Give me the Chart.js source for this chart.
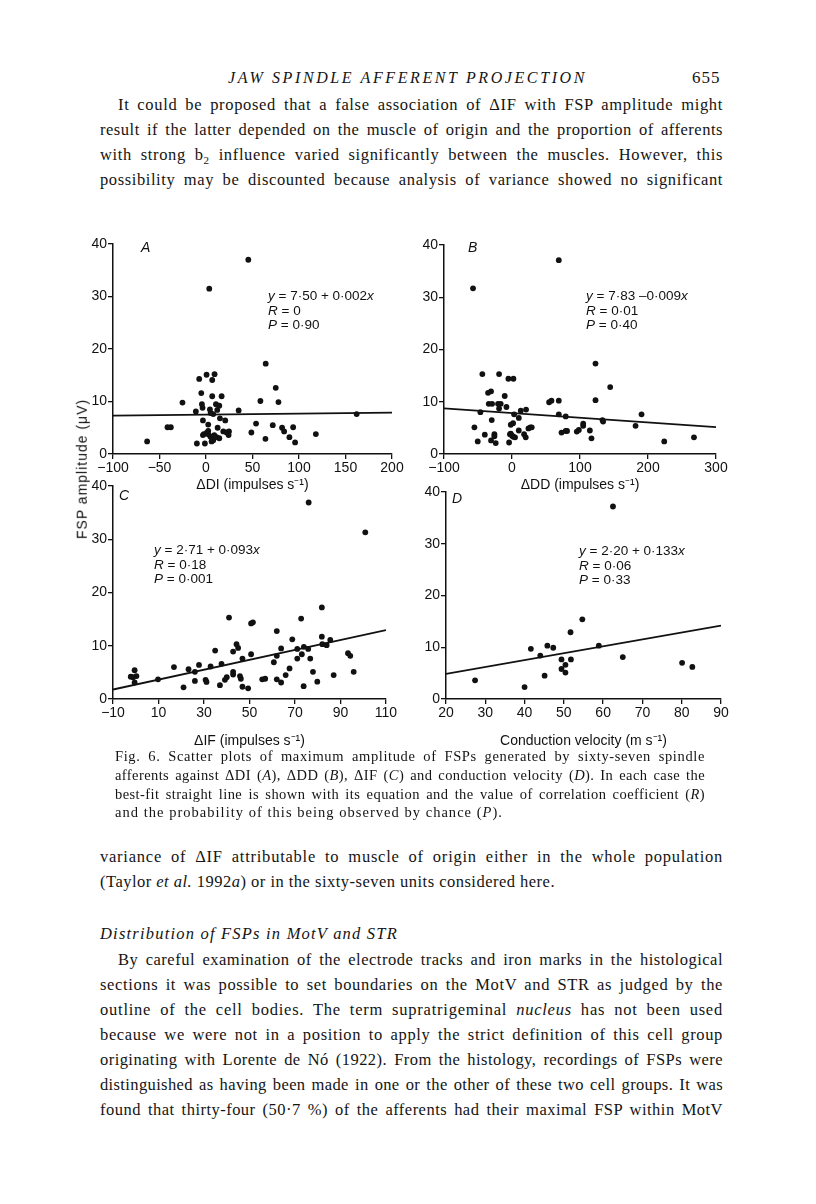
<!DOCTYPE html>
<html>
<head>
<meta charset="utf-8">
<script src="https://cdn.jsdelivr.net/npm/chart.js@4.4.1/dist/chart.umd.min.js"></script>
<style>
  body { margin: 0; background: #fff; }
  #page { position: relative; width: 816px; height: 1204px; overflow: hidden; color: #141414; }
  .ln { position: absolute; white-space: nowrap; font-family: "Liberation Serif", serif; font-size: 16.5px; line-height: 20px; }
  .cap { font-size: 14.5px; line-height: 19px; }
  .lbl { position: absolute; white-space: nowrap; font-family: "Liberation Sans", Arial, sans-serif; font-size: 13.5px; line-height: 14.5px; color: #111; }
  .let { position: absolute; font-family: "Liberation Sans", Arial, sans-serif; font-style: italic; font-size: 14px; color: #111; }
  canvas { position: absolute; }
</style>
</head>
<body>
<div id="page">
  <div class="ln j" data-w="359" data-ls="1" style="left:228px;top:68px;font-style:italic;font-size:16px">JAW SPINDLE AFFERENT PROJECTION</div>
  <div class="ln" style="left:692px;top:68px;font-size:17px;letter-spacing:1px">655</div>

  <div class="ln j" data-w="605" style="left:118px;top:95px">It could be proposed that a false association of ΔIF with FSP amplitude might</div>
  <div class="ln j" data-w="623" style="left:100px;top:120px">result if the latter depended on the muscle of origin and the proportion of afferents</div>
  <div class="ln j" data-w="623" style="left:100px;top:145px">with strong b<sub style="font-size:11px;line-height:0">2</sub> influence varied significantly between the muscles. However, this</div>
  <div class="ln j" data-w="623" style="left:100px;top:170px">possibility may be discounted because analysis of variance showed no significant</div>

  <canvas id="chartA" width="350" height="264" style="left:60px;top:230px"></canvas>
  <canvas id="chartB" width="336" height="263" style="left:400px;top:231px"></canvas>
  <canvas id="chartC" width="345" height="278" style="left:60px;top:472px"></canvas>
  <canvas id="chartD" width="340" height="272" style="left:400px;top:478px"></canvas>

  <div class="let" style="left:141px;top:239px">A</div>
  <div class="let" style="left:468px;top:239px">B</div>
  <div class="let" style="left:119px;top:487px">C</div>
  <div class="let" style="left:452px;top:490px">D</div>

  <div class="lbl" style="left:268px;top:289px"><i>y</i> = 7·50 + 0·002<i>x</i><br><i>R</i> = 0<br><i>P</i> = 0·90</div>
  <div class="lbl" style="left:586px;top:289px"><i>y</i> = 7·83 –0·009<i>x</i><br><i>R</i> = 0·01<br><i>P</i> = 0·40</div>
  <div class="lbl" style="left:154px;top:543px"><i>y</i> = 2·71 + 0·093<i>x</i><br><i>R</i> = 0·18<br><i>P</i> = 0·001</div>
  <div class="lbl" style="left:579px;top:544px"><i>y</i> = 2·20 + 0·133<i>x</i><br><i>R</i> = 0·06<br><i>P</i> = 0·33</div>

  <div class="lbl" style="left:82px;top:469px;font-size:14px;letter-spacing:1px;transform:translate(-50%,-50%) rotate(-90deg)">FSP amplitude (μV)</div>

  <div class="ln cap j" data-w="590" style="left:115px;top:747px">Fig. 6. Scatter plots of maximum amplitude of FSPs generated by sixty-seven spindle</div>
  <div class="ln cap j" data-w="590" style="left:115px;top:766px">afferents against ΔDI (<i>A</i>), ΔDD (<i>B</i>), ΔIF (<i>C</i>) and conduction velocity (<i>D</i>). In each case the</div>
  <div class="ln cap j" data-w="590" style="left:115px;top:785px">best-fit straight line is shown with its equation and the value of correlation coefficient (<i>R</i>)</div>
  <div class="ln cap j" data-w="388" data-ls="1" style="left:115px;top:803px">and the probability of this being observed by chance (<i>P</i>).</div>

  <div class="ln j" data-w="623" style="left:100px;top:847px">variance of ΔIF attributable to muscle of origin either in the whole population</div>
  <div class="ln j" data-w="455" data-ls="1" style="left:100px;top:872px">(Taylor <i>et al.</i> 1992<i>a</i>) or in the sixty-seven units considered here.</div>
  <div class="ln j" data-w="298" data-ls="1" style="left:100px;top:924px;font-style:italic">Distribution of FSPs in MotV and STR</div>
  <div class="ln j" data-w="605" style="left:118px;top:950px">By careful examination of the electrode tracks and iron marks in the histological</div>
  <div class="ln j" data-w="623" style="left:100px;top:975px">sections it was possible to set boundaries on the MotV and STR as judged by the</div>
  <div class="ln j" data-w="623" style="left:100px;top:1000px">outline of the cell bodies. The term supratrigeminal <i>nucleus</i> has not been used</div>
  <div class="ln j" data-w="623" style="left:100px;top:1025px">because we were not in a position to apply the strict definition of this cell group</div>
  <div class="ln j" data-w="623" style="left:100px;top:1050px">originating with Lorente de Nó (1922). From the histology, recordings of FSPs were</div>
  <div class="ln j" data-w="623" style="left:100px;top:1075px">distinguished as having been made in one or the other of these two cell groups. It was</div>
  <div class="ln j" data-w="623" style="left:100px;top:1100px">found that thirty-four (50·7 %) of the afferents had their maximal FSP within MotV</div>
</div>

<script>
// FSP amplitude (uV) against four afferent properties
const diPoints = [[45.5,37.0],[3.5,31.5],[64.2,17.2],[-7.3,14.3],[0.6,15.1],[6.7,14.1],[9.2,15.2],[-5.1,11.6],[6.7,11.0],[16.8,11.0],
  [75,12.6],[-25.3,9.8],[-4.4,9.5],[-3.7,8.8],[58.5,10.1],[77.9,9.9],[-10.9,8.1],[4.2,8.5],[10.7,9.5],[14.3,9.2],[35.1,8.3],[7.8,7.6],
  [5,7.8],[12.1,8.4],[162,7.6],[-3.3,6.4],[15,6.8],[20.7,6.4],[2.4,5.6],[12.5,5.0],[18.6,4.3],[22.2,4.1],[24.7,4.3],[24.3,3.6],
  [-41.4,5.1],[-37.8,5.1],[53.8,5.8],[48.8,4.1],[71.8,5.5],[81.8,5.0],[84,4.3],[93.7,5.1],[118.1,3.8],[89.7,3.2],[95.8,2.2],[63.9,2.9],
  [-63.3,2.4],[-9.8,2.0],[-1.2,2.0],[-2.3,3.8],[0.6,4.0],[2.8,3.7],[4.9,3.3],[7.1,3.0],[8.9,3.6],[11.4,3.2],[14.3,3.0],[7.8,2.6],
  [6,2.4],[-3.3,3.6],[2.4,4.4]];
const ddPoints = [[68.8,37.1],[-57.3,31.7],[122.8,17.3],[144.4,12.8],[-43.6,15.3],[-19,15.3],[-5.3,14.4],[2.1,14.4],[-35.2,11.7],[-30.8,12.0],
  [-10.7,11.1],[-34.2,9.6],[-29.3,9.6],[-20.5,9.6],[-16.6,9.6],[-8.2,9.0],[-46.5,8.0],[12.9,8.3],[20.7,8.5],[-19,8.7],[3.1,7.6],[10,6.9],
  [-29.8,6.5],[54.6,9.9],[58,10.2],[68.8,10.2],[68.8,7.6],[122.8,10.3],[190.5,7.6],[-55.3,5.1],[-50.4,2.4],[-40,3.7],[-30.8,2.6],
  [-25.9,3.8],[-25.9,3.4],[-23.9,2.1],[-4.3,2.2],[-1.8,5.6],[1.6,5.9],[-1.8,3.9],[0,3.5],[2,3.3],[4.5,3.2],[-3,3.8],[10,4.5],[17.8,3.8],
  [20.2,3.2],[24.2,4.9],[27,5.1],[29,5.1],[79,7.2],[72.8,4.1],[79,4.4],[81,4.4],[95.3,4.3],[98.3,4.6],[104.7,5.4],[104.7,5.8],
  [114.5,4.5],[116.9,3.0],[133,6.5],[134,6.2],[181.7,5.4],[223.9,2.4],[267.6,3.2]];
const ifPoints = [[76,36.9],[100.9,31.3],[41.0,15.3],[44.3,10.3],[45.0,9.6],[42.8,8.9],[34.9,9.1],[46.9,7.6],[37.7,6.6],[32.9,6.1],
  [27.8,6.4],[23.2,5.6],[26,5.1],[16.8,6.0],[9.8,3.7],[-2.2,4.2],[-0.5,5.4],[0.3,4.3],[-0.5,3.1],[-1.2,4.1],[21,2.2],[26,3.4],
  [30.7,3.6],[31.1,3.2],[37,2.6],[39.2,3.6],[40,4.1],[42.8,5.1],[42.8,4.6],[45.8,4.3],[46.2,3.8],[46.9,2.3],[49.4,2.0],
  [81.8,17.2],[72.7,15.1],[51.5,14.4],[50.7,14.2],[62,12.75],[68.8,11.2],[81.8,11.7],[85.5,11.1],[63.9,9.5],[71,9.4],[73.9,9.8],
  [75.8,9.4],[82,10.3],[83.9,10.1],[50.7,8.4],[62,8.1],[73,8.4],[93.3,8.6],[94.3,8.1],[60.7,6.9],[71,7.6],[76.7,7.6],[67.6,5.75],
  [65.9,4.5],[62,3.7],[63.9,3.1],[55.6,3.7],[56.9,3.8],[73.8,2.4],[77.9,5.1],[79.8,3.25],[87,4.5],[95.8,5.1]];
const cvPoints = [[62.5,37.2],[54.7,15.4],[51.7,12.9],[41.6,9.7],[45.8,10.3],[47.3,9.9],[44,8.4],[58.9,10.3],[49.4,7.65],[51.8,7.65],
  [50.4,6.6],[49.4,5.8],[50.4,5.1],[45.1,4.5],[65,8.1],[80.1,7.0],[82.7,6.2],[27.4,3.6],[40,2.3]];

// best-fit lines: [intercept, slope]
const fitA = [7.50, 0.002];
const fitB = [7.83, -0.009];
const fitC = [2.71, 0.093];
const fitD = [2.20, 0.133];

const diTicks = [-100, -50, 0, 50, 100, 150, 200];
const ddTicks = [-100, 0, 100, 200, 300];
const ifTicks = [-10, 10, 30, 50, 70, 90, 110];
const cvTicks = [20, 30, 40, 50, 60, 70, 80, 90];
const ampTicks = [0, 10, 20, 30, 40];

const ink = '#111';
const sans = 'Liberation Sans';

function panel(id, pts, fit, xTicks, title, yW, xH, padR) {
  const xmin = xTicks[0], xmax = xTicks[xTicks.length - 1];
  return new Chart(document.getElementById(id), {
    type: 'scatter',
    data: {
      datasets: [{
        data: pts.map(p => ({x: p[0], y: p[1]})),
        backgroundColor: ink,
        borderWidth: 0,
        pointRadius: 2.9
      }, {
        type: 'line',
        data: [xmin, xmax].map(x => ({x: x, y: fit[0] + fit[1] * x})),
        borderColor: ink,
        borderWidth: 1.8,
        pointRadius: 0,
        fill: false
      }]
    },
    options: {
      responsive: false,
      animation: false,
      layout: { padding: {left: 0, top: 14, right: padR, bottom: 0} },
      plugins: { legend: {display: false}, tooltip: {enabled: false} },
      scales: {
        x: {
          type: 'linear', min: xmin, max: xmax,
          afterBuildTicks: s => { s.ticks = xTicks.map(v => ({value: v})); },
          afterFit: s => { s.height = xH; s.paddingLeft = 0; s.paddingRight = 0; },
          grid: {drawOnChartArea: false, color: ink, lineWidth: 1.3, tickLength: 5},
          border: {color: ink, width: 1.5},
          ticks: {color: ink, padding: 1, maxRotation: 0, autoSkip: false,
            font: {family: sans, size: 14},
            callback: v => String(v).replace('-', '\u2212')},
          title: {display: true, text: title, color: ink, font: {family: sans, size: 14}, padding: {top: 0, bottom: 0}}
        },
        y: {
          min: 0, max: 40,
          afterBuildTicks: s => { s.ticks = ampTicks.map(v => ({value: v})); },
          afterFit: s => { s.width = yW; s.paddingTop = 0; s.paddingBottom = 0; },
          grid: {drawOnChartArea: false, color: ink, lineWidth: 1.3, tickLength: 5},
          border: {color: ink, width: 1.5},
          ticks: {color: ink, padding: 1, font: {family: sans, size: 14}}
        }
      }
    }
  });
}

panel('chartA', diPoints, fitA, diTicks, '\u0394DI (impulses s\u207B\u00B9)', 53, 40, 18);
panel('chartB', ddPoints, fitB, ddTicks, '\u0394DD (impulses s\u207B\u00B9)', 44, 40, 20);
panel('chartC', ifPoints, fitC, ifTicks, '\u0394IF (impulses s\u207B\u00B9)', 53, 51, 19);
panel('chartD', cvPoints, fitD, cvTicks, 'Conduction velocity (m s\u207B\u00B9)', 46, 51, 19);

// stretch each line to its column width: part letter spacing, the rest between words
document.querySelectorAll('.j').forEach(el => {
  const w = +el.dataset.w;
  const share = el.dataset.ls ? +el.dataset.ls : 0.55;
  const chars = el.textContent.length;
  let nat = el.getBoundingClientRect().width;
  el.style.letterSpacing = (share * (w - nat) / chars) + 'px';
  nat = el.getBoundingClientRect().width;
  const n = (el.textContent.match(/ /g) || []).length;
  if (n && share < 1) el.style.wordSpacing = ((w - nat) / n) + 'px';
});
</script>
</body>
</html>
